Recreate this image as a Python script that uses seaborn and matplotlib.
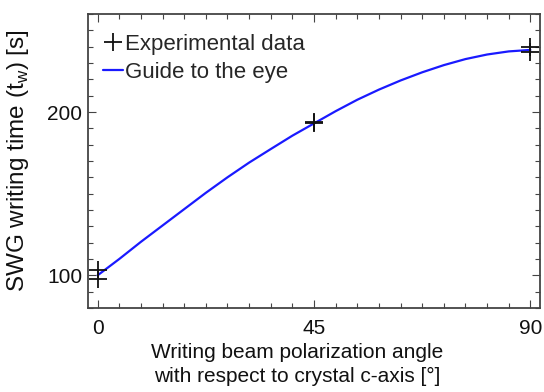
import matplotlib
matplotlib.use("Agg")
import matplotlib.pyplot as plt
import seaborn as sns
import pandas as pd
from matplotlib.ticker import MultipleLocator
from matplotlib.lines import Line2D

# Data
exp_angle = [0, 0, 45, 45, 90, 90]
exp_time = [103, 97.5, 193, 194, 240, 236.7]

guide_angle = [0, 4.5, 9, 13.5, 18, 22.5, 27, 31.5, 36, 40.5, 45,
               49.5, 54, 58.5, 63, 67.5, 72, 76.5, 81, 85.5, 90]
guide_time = [100, 110, 120.5, 130.5, 140.5, 150.5, 160, 169, 177.3, 185.5, 193,
              200.5, 207.5, 213.7, 219.3, 224.3, 228.7, 232.4, 235.2, 237.1, 238]

x_ticks = [0, 45, 90]
y_ticks = [100, 200]

sns.set_theme(style="ticks")
plt.rcParams["font.family"] = ["Liberation Sans", "DejaVu Sans"]

fig = plt.figure(figsize=(5.44, 3.92), dpi=100)
ax = fig.add_axes([88/544, 1 - 308/392, (540-88)/544, (308-14)/392])

guide_df = pd.DataFrame({"angle": guide_angle, "time": guide_time})
exp_df = pd.DataFrame({"angle": exp_angle, "time": exp_time})

sns.lineplot(data=guide_df, x="angle", y="time", ax=ax, color="#1a1aff",
             linewidth=1.6, estimator=None, sort=True)
sns.scatterplot(data=exp_df, x="angle", y="time", ax=ax, marker="+", s=180,
                color="#111111", linewidth=1.3, zorder=3)

ax.set_xlim(-2, 92)
ax.set_ylim(80, 260)
ax.set_xticks(x_ticks)
ax.set_yticks(y_ticks)
ax.xaxis.set_minor_locator(MultipleLocator(4.5))
ax.yaxis.set_minor_locator(MultipleLocator(10))
ax.tick_params(which="both", direction="in", top=True, right=True,
               color="#444444", width=0.8)
ax.tick_params(which="major", length=6, labelsize=15, labelcolor="#111111")
ax.tick_params(which="minor", length=3.5)
ax.tick_params(axis="x", which="major", pad=8)
ax.tick_params(axis="y", which="major", pad=4)
for sp in ax.spines.values():
    sp.set_visible(True)
    sp.set_color("#444444")
    sp.set_linewidth(1.3)

ax.set_xlabel("Writing beam polarization angle\nwith respect to crystal c-axis [°]",
              fontsize=15, color="#111111", linespacing=1.3)
ax.xaxis.set_label_coords((297-88)/452, -0.12, transform=ax.transAxes)
ax.xaxis.label.set_verticalalignment("top")
ax.set_ylabel("SWG writing time (t$_\\mathregular{w}$) [s]", fontsize=17.5, color="#111111")
ax.yaxis.set_label_coords(-0.125, 0.50)

handles = [
    Line2D([], [], linestyle="none", marker="+", markersize=13.5, markeredgewidth=1.3,
           color="#111111"),
    Line2D([], [], color="#1a1aff", linewidth=1.6),
]
ax.legend(handles, ["Experimental data", "Guide to the eye"], loc="upper left",
          bbox_to_anchor=(-0.017, 1.007),
          frameon=False, fontsize=16, handlelength=0.9, handletextpad=0.1,
          borderaxespad=0.5, labelspacing=0.3, borderpad=0.5)

fig.savefig("out.png", dpi=100)
